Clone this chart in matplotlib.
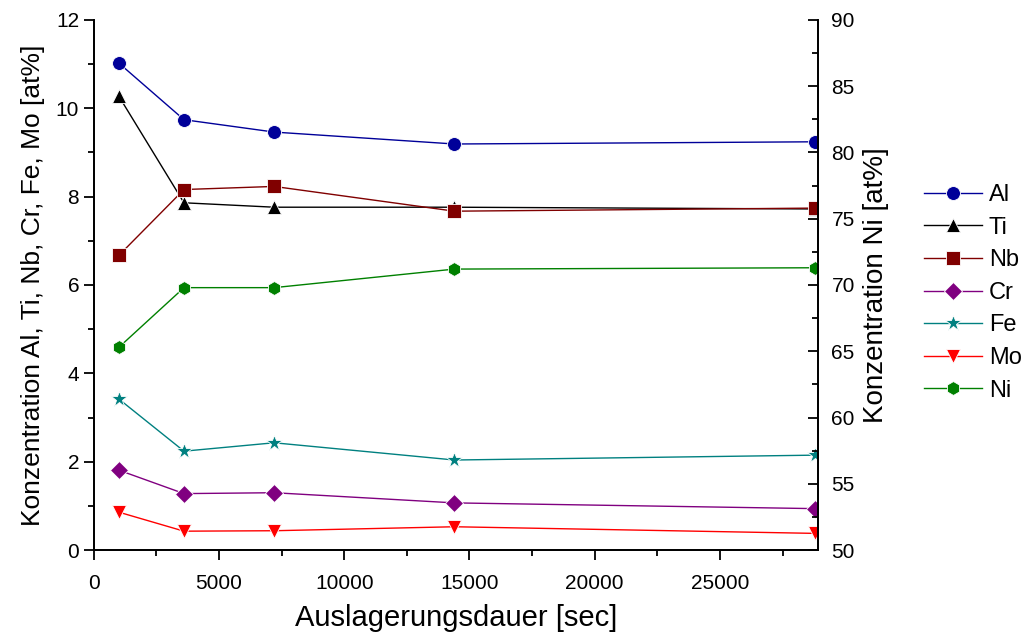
import numpy as np
import matplotlib.pyplot as plt
from matplotlib.ticker import MultipleLocator

plt.rcParams['font.family'] = ['Liberation Sans', 'DejaVu Sans']

# Auslagerungsdauer [sec]
zeit = [1000, 3600, 7200, 14400, 28800]

# Konzentration [at%]
al = [11.02, 9.74, 9.46, 9.19, 9.24]
ti = [10.27, 7.86, 7.76, 7.76, 7.72]
nb = [6.67, 8.16, 8.23, 7.67, 7.74]
cr = [1.81, 1.28, 1.30, 1.07, 0.94]
fe = [3.42, 2.24, 2.43, 2.04, 2.15]
mo = [0.86, 0.43, 0.44, 0.53, 0.38]
ni = [65.3, 69.8, 69.8, 71.2, 71.3]

fig = plt.figure(figsize=(10.31, 6.39), dpi=100)
ax = fig.add_axes([0.091, 0.139, 0.702, 0.830])
ax2 = ax.twinx()

kw = dict(linewidth=1.0, markersize=10, markeredgecolor='white', markeredgewidth=0.6)
l1, = ax.plot(zeit, al, color='#000099', marker='o', label='Al', **kw)
l2, = ax.plot(zeit, ti, color='black', marker='^', label='Ti', **kw)
l3, = ax.plot(zeit, nb, color='#800000', marker='s', label='Nb', **kw)
l4, = ax.plot(zeit, cr, color='#800080', marker='D', label='Cr', **dict(kw, markersize=9))
l5, = ax.plot(zeit, fe, color='#008080', marker='*', label='Fe', **dict(kw, markersize=12))
l6, = ax.plot(zeit, mo, color='#ff0000', marker='v', label='Mo', **kw)
l7, = ax2.plot(zeit, ni, color='#008000', marker='h', label='Ni', **kw)

ax.set_xlim(0, 28900)
ax.set_ylim(0, 12)
ax2.set_ylim(50, 90)

ax.xaxis.set_major_locator(MultipleLocator(5000))
ax.xaxis.set_minor_locator(MultipleLocator(2500))
ax.yaxis.set_major_locator(MultipleLocator(2))
ax.yaxis.set_minor_locator(MultipleLocator(1))
ax2.yaxis.set_major_locator(MultipleLocator(5))
ax2.yaxis.set_minor_locator(MultipleLocator(2.5))

for a in (ax, ax2):
    a.spines['top'].set_visible(False)
    for s in a.spines.values():
        s.set_linewidth(1.3)

ax.tick_params(axis='both', which='major', direction='out', length=7, width=1.3, labelsize=15)
ax.tick_params(axis='both', which='minor', direction='out', length=4, width=1.3)
ax.tick_params(axis='x', pad=10)
ax2.tick_params(axis='y', which='major', direction='in', length=7, width=1.3, labelsize=15, pad=10)
ax2.tick_params(axis='y', which='minor', direction='in', length=4, width=1.3)

ax.set_xlabel('Auslagerungsdauer [sec]', fontsize=21, labelpad=8)
ax.set_ylabel('Konzentration Al, Ti, Nb, Cr, Fe, Mo [at%]', fontsize=19, labelpad=8)
ax2.set_ylabel('Konzentration Ni [at%]', fontsize=20, labelpad=6)

fig.legend(handles=[l1, l2, l3, l4, l5, l6, l7], loc='upper left',
           bbox_to_anchor=(0.887, 0.727), frameon=False, fontsize=17,
           handlelength=2.45, labelspacing=0.45, handletextpad=0.3,
           borderaxespad=0)

fig.savefig('out.png', dpi=100)
